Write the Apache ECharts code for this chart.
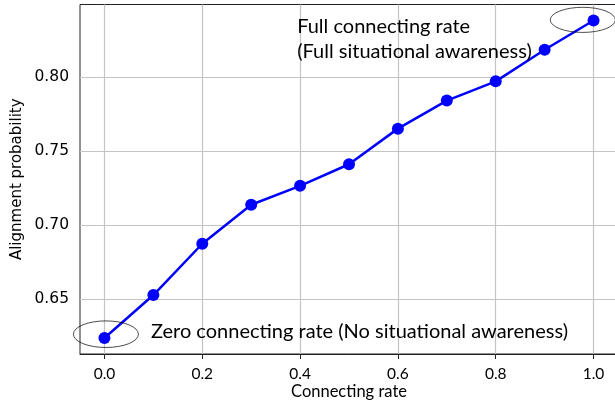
<!DOCTYPE html>
<html>
<head>
<meta charset="utf-8">
<script src="https://cdn.jsdelivr.net/npm/echarts@6/dist/echarts.min.js"></script>
<style>html,body{margin:0;padding:0;background:#fff}#c{width:615px;height:402px}</style>
</head>
<body>
<div id="c"></div>
<script>
const connectingRate = [0.0, 0.1, 0.2, 0.3, 0.4, 0.5, 0.6, 0.7, 0.8, 0.9, 1.0];
const alignmentProb = [0.6236, 0.6527, 0.6874, 0.7138, 0.7266, 0.7412, 0.7653, 0.7843, 0.7973, 0.8187, 0.8385];
const xTicks = [0.0, 0.2, 0.4, 0.6, 0.8, 1.0];
const yTicks = [0.65, 0.70, 0.75, 0.80];
const annotTexts = ['Full connecting rate\n(Full situational awareness)', 'Zero connecting rate (No situational awareness)'];
const annotX = [0.394, 0.095];
const annotY = [0.8262, 0.6279];
const ellipseX = [0.003, 0.978];
const ellipseY = [0.6262, 0.8389];
const ellipseW = [0.133, 0.133];
const ellipseH = [0.018, 0.017];

const chart = echarts.init(document.getElementById('c'), null, {renderer: 'canvas'});
const gridColor = '#c4c4c4';
const option = {
  animation: false,
  grid: {left: 80, top: 4.5, right: -3, bottom: 48, outerBoundsMode: 'none', containLabel: false,
    show: true, borderColor: '#222', borderWidth: 1, backgroundColor: 'transparent'},
  xAxis: {
    type: 'value', min: -0.05, max: 1.05,
    name: 'Connecting rate', nameLocation: 'middle', nameGap: 29, nameMoveOverlap: false,
    nameTextStyle: {fontFamily: 'Lato', fontSize: 16.5, color: '#000'},
    axisLine: {show: true, lineStyle: {color: '#222', width: 1}},
    axisTick: {show: true, length: 5, customValues: xTicks, lineStyle: {color: '#222'}},
    axisLabel: {customValues: xTicks, margin: 12, fontFamily: 'Lato', fontSize: 15.5, color: '#000',
      formatter: v => v.toFixed(1)},
    splitLine: {show: false}
  },
  yAxis: {
    type: 'value', min: 0.6128, max: 0.8493,
    name: 'Alignment probability', nameLocation: 'middle', nameGap: 55, nameRotate: 90, nameMoveOverlap: false,
    nameTextStyle: {fontFamily: 'DejaVu Sans', fontSize: 15, color: '#000'},
    axisLine: {show: true, lineStyle: {color: '#222', width: 1}},
    axisTick: {show: true, length: 5, customValues: yTicks, lineStyle: {color: '#222'}},
    axisLabel: {customValues: yTicks, margin: 11, fontFamily: 'DejaVu Sans', fontSize: 15.5, color: '#000',
      formatter: v => v.toFixed(2)},
    splitLine: {show: false}
  },
  series: [
    {
      type: 'line', silent: true, z: 1,
      data: [],
      markLine: {
        silent: true, symbol: 'none', label: {show: false},
        lineStyle: {color: gridColor, width: 1.2, type: 'solid'},
        data: xTicks.map(v => ({xAxis: v})).concat(yTicks.map(v => ({yAxis: v})))
      }
    },
    {
      type: 'line', z: 5,
      data: connectingRate.map((x, i) => [x, alignmentProb[i]]),
      symbol: 'circle', symbolSize: 12, showSymbol: true,
      lineStyle: {color: '#0000ff', width: 2.5},
      itemStyle: {color: '#0000ff'}
    },
    {
      type: 'custom', z: 6, silent: true,
      data: ellipseX.map((x, i) => [x, ellipseY[i], ellipseW[i], ellipseH[i]]),
      renderItem: (params, api) => {
        const c = api.coord([api.value(0), api.value(1)]);
        const s = api.size([api.value(2), api.value(3)]);
        const rx = s[0] / 2, ry = s[1] / 2;
        return {type: 'circle', x: c[0], y: c[1], scaleY: ry / rx,
          shape: {cx: 0, cy: 0, r: rx},
          style: {fill: 'none', stroke: '#000', lineWidth: 1, strokeNoScale: true}};
      }
    },
    {
      type: 'custom', z: 7, silent: true,
      data: annotX.map((x, i) => [x, annotY[i], i]),
      renderItem: (params, api) => {
        const c = api.coord([api.value(0), api.value(1)]);
        return {type: 'text', x: c[0], y: c[1],
          style: {text: annotTexts[api.value(2)], fill: '#000', fontFamily: 'Lato', fontSize: 20,
            lineHeight: 25, align: 'left', verticalAlign: 'middle'}};
      }
    }
  ]
};
chart.setOption(option);
</script>
</body>
</html>
